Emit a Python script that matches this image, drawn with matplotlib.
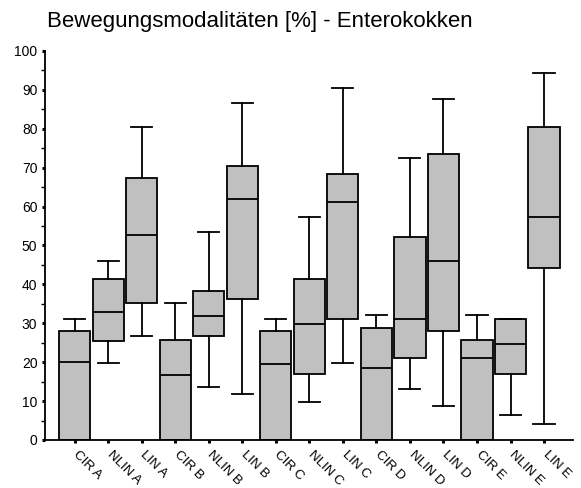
import matplotlib.pyplot as plt
from matplotlib.transforms import ScaledTranslation

labels = ["CIR A", "NLIN A", "LIN A", "CIR B", "NLIN B", "LIN B",
          "CIR C", "NLIN C", "LIN C", "CIR D", "NLIN D", "LIN D",
          "CIR E", "NLIN E", "LIN E"]
whis_lo = [0, 19.9, 26.8, 0, 13.7, 11.8, 0, 9.8, 19.9, 0, 13.0, 8.7, 0, 6.3, 4.0]
q1 = [0, 25.4, 35.2, 0, 26.8, 36.2, 0, 17.0, 31.1, 0, 21.0, 28.0, 0, 17.0, 44.2]
med = [20.0, 33.0, 52.6, 16.6, 31.8, 61.9, 19.6, 29.7, 61.2, 18.5, 31.1, 46.0, 21.0, 24.6, 57.2]
q3 = [28.0, 41.3, 67.4, 25.7, 38.4, 70.4, 27.9, 41.3, 68.5, 28.9, 52.2, 73.5, 25.7, 31.1, 80.4]
whis_hi = [31.1, 46.0, 80.4, 35.2, 53.4, 86.6, 31.1, 57.2, 90.6, 32.2, 72.4, 87.6, 32.2, 31.1, 94.3]

plt.rcParams['font.family'] = ['Liberation Sans', 'DejaVu Sans']

fig = plt.figure(figsize=(5.81, 4.88), dpi=100)
ax = fig.add_axes([0.0775, 0.0984, 0.9085, 0.7971])

stats = []
for lab, lo, a, m, b, hi in zip(labels, whis_lo, q1, med, q3, whis_hi):
    stats.append({"label": lab, "whislo": lo, "q1": a, "med": m, "q3": b,
                  "whishi": hi, "fliers": []})

pos = list(range(1, len(labels) + 1))
ax.bxp(stats, positions=pos, widths=0.93, capwidths=0.63, patch_artist=True,
       showfliers=False,
       boxprops=dict(facecolor="#c0c0c0", edgecolor="black", linewidth=1.3),
       medianprops=dict(color="black", linewidth=1.3),
       whiskerprops=dict(color="black", linewidth=1.3),
       capprops=dict(color="black", linewidth=1.3))

ax.set_xlim(0.115, 15.86)
ax.set_ylim(0, 100)
ax.set_yticks(range(0, 101, 10))
ax.set_yticks(range(5, 100, 10), minor=True)
ax.set_xticks(pos)
ax.set_xticklabels(labels, rotation=-45, ha="left", rotation_mode="anchor",
                   fontsize=9.5)
ax.tick_params(axis="y", which="major", direction="out", length=2.5, width=2.2,
               labelsize=10, pad=3)
ax.tick_params(axis="y", which="minor", direction="out", length=3, width=1)
ax.tick_params(axis="x", which="major", direction="out", length=2.5, width=2.2,
               pad=3.5)
shift = ScaledTranslation(5 / 100, 0, fig.dpi_scale_trans)
for lab in ax.get_xticklabels():
    lab.set_transform(lab.get_transform() + shift)

ax.spines["top"].set_visible(False)
ax.spines["right"].set_visible(False)
ax.spines["left"].set_linewidth(1.3)
ax.spines["bottom"].set_linewidth(1.3)

fig.text(47 / 581, 1 - 27 / 488, "Bewegungsmodalitäten [%] - Enterokokken",
         fontsize=16, ha="left", va="baseline")

fig.savefig("out.png", dpi=100)
